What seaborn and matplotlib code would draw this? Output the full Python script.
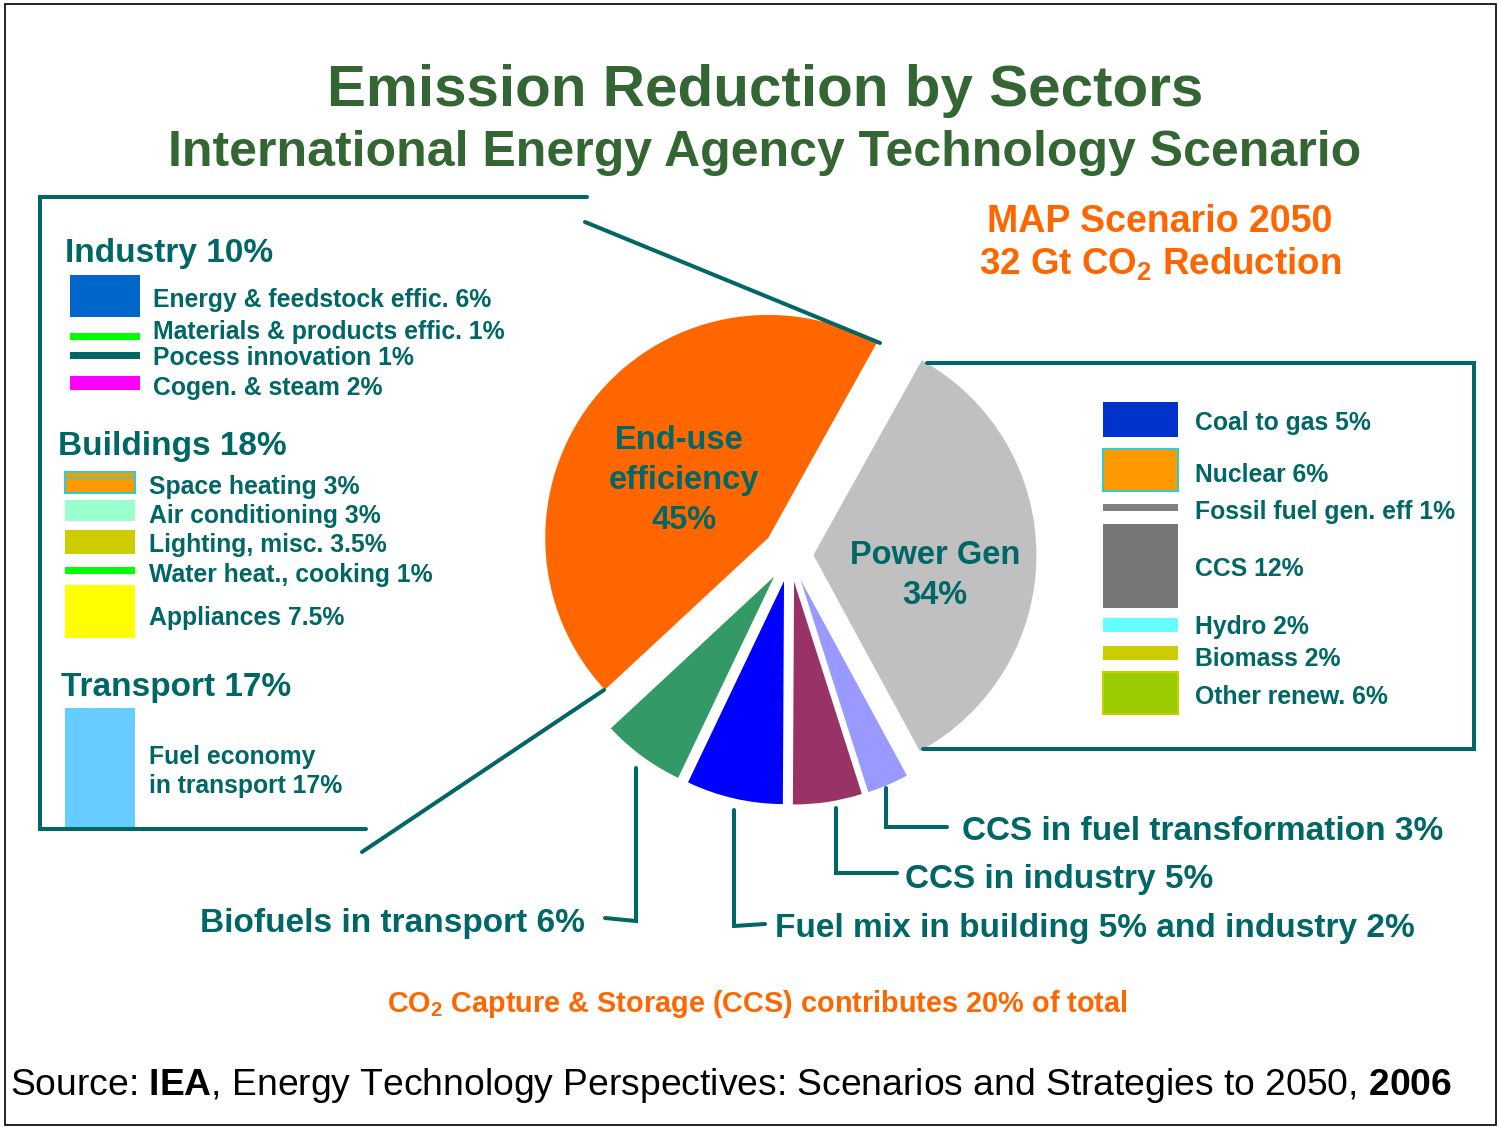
import matplotlib
matplotlib.use("Agg")
import matplotlib.pyplot as plt
from matplotlib.patches import Rectangle
import seaborn as sns

# ------------------------------------------------------------------ data
pie_sectors = ["Power Gen", "End-use efficiency", "Biofuels in transport",
               "Fuel mix in building and industry", "CCS in industry",
               "CCS in fuel transformation"]
pie_shares = [34, 45, 6, 7, 5, 3]
pie_colors = ["#C0C0C0", "#FF6600", "#339966", "#0000FF", "#993366", "#9999FF"]

industry_items = ["Energy & feedstock effic. 6%", "Materials & products effic. 1%",
                  "Pocess innovation 1%", "Cogen. & steam 2%"]
industry_values = [6, 1, 1, 2]
industry_colors = ["#0066CC", "#00FF00", "#006666", "#FF00FF"]

buildings_items = ["Space heating 3%", "Air conditioning 3%", "Lighting, misc. 3.5%",
                   "Water heat., cooking 1%", "Appliances 7.5%"]
buildings_values = [3, 3, 3.5, 1, 7.5]
buildings_colors = ["#FF9900", "#99FFCC", "#CCCC00", "#00FF00", "#FFFF00"]

transport_items = ["Fuel economy\nin transport 17%"]
transport_values = [17]
transport_colors = ["#66CCFF"]

power_items = ["Coal to gas 5%", "Nuclear 6%", "Fossil fuel gen. eff 1%", "CCS 12%",
               "Hydro 2%", "Biomass 2%", "Other renew. 6%"]
power_values = [5, 6, 1, 12, 2, 2, 6]
power_colors = ["#0033CC", "#FF9900", "#808080", "#777777", "#66FFFF", "#CCCC00", "#99CC00"]

group_titles = ["Industry 10%", "Buildings 18%", "Transport 17%"]

# ------------------------------------------------------------------ layout / style
W, H = 1499, 1127
TEAL = "#006666"
GREEN = "#336633"
ORANGE = "#FF6600"
PX = 100 / 72.0          # pixels per point at dpi 100
PX_PER_PCT = 7.0         # legend swatch height per percent

ITEM_FS = 17.8
HEAD_FS = 24
CALL_FS = 24

pie_center = (790, 555)
pie_radius = 223
pie_explode = [0.105, 0.124, 0.12, 0.12, 0.12, 0.12]
pie_start = -61.5

industry_swatch_yc = [296, 336, 355, 383]
industry_text_yc = [298, 330, 356, 386]
buildings_swatch_yc = [482, 510.5, 542, 570, 611.5]
buildings_text_yc = [485, 514, 543, 573, 616]
transport_swatch_yc = [767]
transport_text_yc = [755]
power_swatch_yc = [419, 470, 507.5, 566, 625, 652.5, 693]
power_text_yc = [421, 473, 510, 567, 625, 657, 695]

sns.set_theme(style="white")
plt.rcParams["font.family"] = ["Liberation Sans", "DejaVu Sans"]
plt.rcParams["mathtext.fontset"] = "custom"
plt.rcParams["mathtext.rm"] = "Liberation Sans:bold"
plt.rcParams["mathtext.bf"] = "Liberation Sans:bold"
plt.rcParams["mathtext.it"] = "Liberation Sans:bold"

fig = plt.figure(figsize=(W / 100, H / 100), dpi=100)
fig.patch.set_facecolor("white")

# ------------------------------------------------------------------ pie
span = 1.5
side = 2 * span * pie_radius
axp = fig.add_axes([(pie_center[0] - side / 2) / W,
                    (H - (pie_center[1] + side / 2)) / H,
                    side / W, side / H])
axp.pie(pie_shares, colors=pie_colors, explode=pie_explode, startangle=pie_start,
        counterclock=True, radius=1, wedgeprops=dict(linewidth=0))
axp.set_xlim(-span, span)
axp.set_ylim(-span, span)
axp.set_aspect("auto")
axp.axis("off")

# ------------------------------------------------------------------ overlay (pixel coords)
ax = fig.add_axes([0, 0, 1, 1])
ax.set_xlim(0, W)
ax.set_ylim(H, 0)
ax.axis("off")
ax.patch.set_alpha(0)


def put(x, yc, s, size, color=TEAL, weight="bold", ha="left"):
    ax.text(x, yc + 0.36 * size * PX, s, fontsize=size, color=color,
            fontweight=weight, ha=ha, va="baseline")


def line(xs, ys, lw=2.9):
    ax.plot(xs, ys, color=TEAL, lw=lw, solid_capstyle="round",
            solid_joinstyle="miter")


# outer border
ax.add_patch(Rectangle((5, 4), 1491, 1121, fill=False, ec="black", lw=1.2))

# titles
put(765, 85, "Emission Reduction by Sectors", 42, color=GREEN, ha="center")
put(765, 148, "International Energy Agency Technology Scenario", 36, color=GREEN, ha="center")
put(1160, 219, "MAP Scenario 2050", 27, color=ORANGE, ha="center")
put(1160, 261, "32 Gt CO$_2$ Reduction", 26.5, color=ORANGE, ha="center")

# left box frame
line([587, 40, 40, 366], [197, 197, 829, 829])
line([585, 880], [222, 343])
line([362, 604], [852, 690])
# right box frame
line([927, 1474, 1474, 923], [363, 363, 749, 749])


def swatches(x0, width, ycs, values, colors, edges=None):
    for i, (yc, v, c) in enumerate(zip(ycs, values, colors)):
        h = v * PX_PER_PCT
        ec = edges[i] if edges and edges[i] else c
        ax.add_patch(Rectangle((x0, yc - h / 2), width, h, fc=c, ec=ec,
                               lw=1.5 if ec != c else 0))


# Industry
put(65, 250, group_titles[0], HEAD_FS)
swatches(70, 70, industry_swatch_yc, industry_values, industry_colors)
for s, yc in zip(industry_items, industry_text_yc):
    put(153, yc, s, ITEM_FS)

# Buildings
put(58, 443, group_titles[1], HEAD_FS)
swatches(65, 70, buildings_swatch_yc, buildings_values, buildings_colors,
         edges=["#33CCCC", None, None, None, None])
ax.plot([65, 135], [477.5, 477.5], color="#33CCCC", lw=1.2)
for s, yc in zip(buildings_items, buildings_text_yc):
    put(149, yc, s, ITEM_FS)

# Transport
put(61, 684, group_titles[2], HEAD_FS)
swatches(65, 70, transport_swatch_yc, transport_values, transport_colors)
for s, yc in zip(transport_items, transport_text_yc):
    for k, part in enumerate(s.split("\n")):
        put(149, yc + 29.5 * k, part, ITEM_FS)

# Power legend
swatches(1103, 75, power_swatch_yc, power_values, power_colors,
         edges=[None, "#33CCCC", None, None, None, None, "#CCCC00"])
for s, yc in zip(power_items, power_text_yc):
    put(1195, yc, s, ITEM_FS)

# pie labels
put(679, 437, "End-use", 23.5, ha="center")
put(684, 477, "efficiency", 23.5, ha="center")
put(684, 517, "45%", 23.5, ha="center")
put(935, 552, "Power Gen", 23.5, ha="center")
put(935, 592, "34%", 23.5, ha="center")

# leader lines and callouts
line([636, 636, 605], [768, 921, 918])
line([734, 734, 765], [810, 926, 924])
line([836, 836, 897], [808, 873, 873])
line([886, 886, 947], [788, 827, 827])
put(585, 920, "Biofuels in transport 6%", CALL_FS, ha="right")
put(775, 925, "Fuel mix in building 5% and industry 2%", CALL_FS)
put(905, 876, "CCS in industry 5%", CALL_FS)
put(962, 828, "CCS in fuel transformation 3%", CALL_FS)

# footnotes
put(757, 1002, "CO$_2$ Capture & Storage (CCS) contributes 20% of total", 20.8,
    color=ORANGE, ha="center")
put(10, 1082,
    r"Source: $\mathbf{IEA}$, Energy Technology Perspectives: Scenarios and "
    r"Strategies to 2050, $\mathbf{2006}$",
    26.8, color="black", weight="normal")

fig.savefig("out.png", dpi=100, facecolor="white")
